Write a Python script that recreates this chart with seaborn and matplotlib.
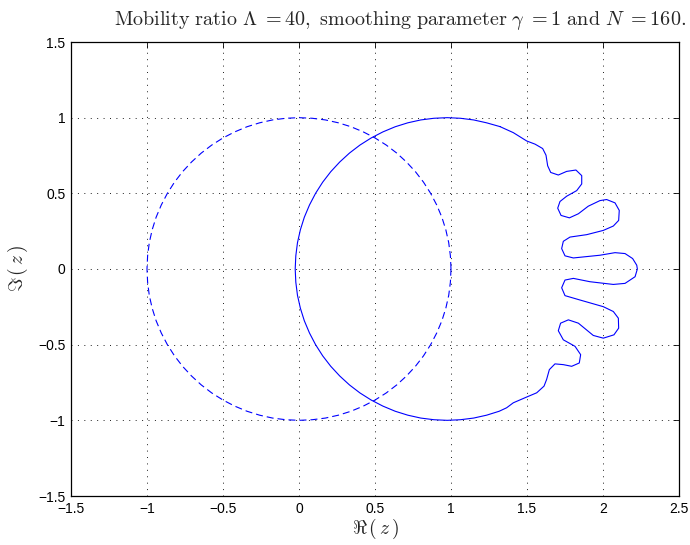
import matplotlib
matplotlib.use("Agg")
import matplotlib.pyplot as plt
import seaborn as sns
import pandas as pd

# Initial interface: unit circle (dashed)
init_x = [1.000, 0.996, 0.985, 0.966, 0.940, 0.906, 0.866, 0.819, 0.766, 0.707,
          0.643, 0.574, 0.500, 0.423, 0.342, 0.259, 0.174, 0.087, 0.000,
          -0.087, -0.174, -0.259, -0.342, -0.423, -0.500, -0.574, -0.643, -0.707,
          -0.766, -0.819, -0.866, -0.906, -0.940, -0.966, -0.985, -0.996, -1.000,
          -0.996, -0.985, -0.966, -0.940, -0.906, -0.866, -0.819, -0.766, -0.707,
          -0.643, -0.574, -0.500, -0.423, -0.342, -0.259, -0.174, -0.087, 0.000,
          0.087, 0.174, 0.259, 0.342, 0.423, 0.500, 0.574, 0.643, 0.707,
          0.766, 0.819, 0.866, 0.906, 0.940, 0.966, 0.985, 0.996, 1.000]
init_y = [0.000, 0.087, 0.174, 0.259, 0.342, 0.423, 0.500, 0.574, 0.643, 0.707,
          0.766, 0.819, 0.866, 0.906, 0.940, 0.966, 0.985, 0.996, 1.000,
          0.996, 0.985, 0.966, 0.940, 0.906, 0.866, 0.819, 0.766, 0.707,
          0.643, 0.574, 0.500, 0.423, 0.342, 0.259, 0.174, 0.087, 0.000,
          -0.087, -0.174, -0.259, -0.342, -0.423, -0.500, -0.574, -0.643, -0.707,
          -0.766, -0.819, -0.866, -0.906, -0.940, -0.966, -0.985, -0.996, -1.000,
          -0.996, -0.985, -0.966, -0.940, -0.906, -0.866, -0.819, -0.766, -0.707,
          -0.643, -0.574, -0.500, -0.423, -0.342, -0.259, -0.174, -0.087, 0.000]

# Evolved interface with viscous fingers (solid)
final_x = [1.322, 1.234, 1.149, 1.062, 0.975, 0.888, 0.801, 0.716, 0.633, 0.552,
           0.475, 0.401, 0.332, 0.268, 0.209, 0.156, 0.109, 0.069, 0.035, 0.009,
           -0.010, -0.021, -0.025, -0.021, -0.010, 0.009, 0.035, 0.069, 0.109, 0.156,
           0.209, 0.268, 0.332, 0.401, 0.475, 0.552, 0.633, 0.716, 0.801, 0.888,
           0.975, 1.062, 1.149, 1.234, 1.317,
           1.366, 1.410, 1.498, 1.564, 1.612, 1.629, 1.647,
           1.684, 1.739, 1.794, 1.844, 1.853, 1.816, 1.739, 1.706, 1.721, 1.772,
           1.838, 1.936, 2.002, 2.072, 2.103, 2.101, 2.068, 2.002, 1.849, 1.750,
           1.728, 1.750, 1.805, 1.914, 2.068, 2.145, 2.211, 2.226, 2.222, 2.195,
           2.145, 2.079, 1.980, 1.805, 1.750, 1.728, 1.739, 1.783, 1.893, 2.002,
           2.068, 2.103, 2.107, 2.079, 2.024, 1.980, 1.903, 1.838, 1.779, 1.724,
           1.702, 1.717, 1.761, 1.827, 1.860, 1.860, 1.822, 1.761, 1.706, 1.656,
           1.636, 1.625, 1.603, 1.553, 1.498, 1.410, 1.322]
final_y = [0.941, 0.966, 0.985, 0.996, 1.000, 0.996, 0.985, 0.966, 0.940, 0.906,
           0.866, 0.819, 0.766, 0.707, 0.643, 0.574, 0.500, 0.423, 0.342, 0.259,
           0.174, 0.087, 0.000, -0.087, -0.174, -0.259, -0.342, -0.423, -0.500, -0.574,
           -0.643, -0.707, -0.766, -0.819, -0.866, -0.906, -0.940, -0.966, -0.985, -0.996,
           -1.000, -0.996, -0.985, -0.966, -0.940,
           -0.917, -0.884, -0.846, -0.818, -0.774, -0.730, -0.665,
           -0.627, -0.632, -0.643, -0.621, -0.566, -0.511, -0.468, -0.408, -0.358, -0.336,
           -0.358, -0.439, -0.457, -0.435, -0.391, -0.325, -0.281, -0.249, -0.205, -0.176,
           -0.124, -0.073, -0.062, -0.084, -0.102, -0.095, -0.051, 0.000, 0.025, 0.069,
           0.102, 0.108, 0.091, 0.073, 0.087, 0.135, 0.183, 0.211, 0.227, 0.255,
           0.284, 0.321, 0.387, 0.437, 0.459, 0.452, 0.415, 0.365, 0.338, 0.354,
           0.402, 0.446, 0.481, 0.518, 0.562, 0.617, 0.654, 0.645, 0.621, 0.638,
           0.682, 0.752, 0.796, 0.825, 0.846, 0.901, 0.941]

x_ticks = [-1.5, -1, -0.5, 0, 0.5, 1, 1.5, 2, 2.5]
y_ticks = [-1.5, -1, -0.5, 0, 0.5, 1, 1.5]
x_tick_labels = ["\u22121.5", "\u22121", "\u22120.5", "0", "0.5", "1", "1.5", "2", "2.5"]
y_tick_labels = ["\u22121.5", "\u22121", "\u22120.5", "0", "0.5", "1", "1.5"]

sns.set_theme(style="white")
plt.rcParams["font.family"] = ["Liberation Sans", "DejaVu Sans"]
plt.rcParams["mathtext.fontset"] = "cm"

fig = plt.figure(figsize=(6.9, 5.45), dpi=100)
ax = fig.add_axes([71 / 690, 49 / 545, 608 / 690, 454 / 545])

init_df = pd.DataFrame({"x": init_x, "y": init_y})
final_df = pd.DataFrame({"x": final_x, "y": final_y})

sns.lineplot(data=init_df, x="x", y="y", sort=False, estimator=None, ax=ax,
             color="#0000ff", linewidth=0.8, linestyle=(0, (6.3, 3.6)))
sns.lineplot(data=final_df, x="x", y="y", sort=False, estimator=None, ax=ax,
             color="#0000ff", linewidth=0.8)

ax.set_xlim(-1.5, 2.5)
ax.set_ylim(-1.5, 1.5)
ax.set_xticks(x_ticks)
ax.set_xticklabels(x_tick_labels)
ax.set_yticks(y_ticks)
ax.set_yticklabels(y_tick_labels)

ax.grid(True, color="black", linewidth=0.6, linestyle=(0, (1.2, 6.5)))
ax.tick_params(direction="in", length=4, width=0.6, top=True, right=True,
               labelsize=10, colors="black", pad=4)
for sp in ax.spines.values():
    sp.set_visible(True)
    sp.set_color("black")
    sp.set_linewidth(0.9)

ax.set_xlabel(r"$\Re\,(\,z\,)$", fontsize=14, labelpad=1)
ax.set_ylabel(r"$\Im\,(\,z\,)$", fontsize=14, labelpad=6)

fig.text(400 / 690, 1 - 20 / 545,
         r"$\mathrm{Mobility\ ratio\ }\Lambda\ {=}40\mathrm{,\ smoothing\ parameter\ }"
         r"\gamma\ {=}1\mathrm{\ and\ }N\ {=}160\mathrm{.}$",
         ha="center", va="center", fontsize=14.5)

fig.savefig("out.png", dpi=100)
